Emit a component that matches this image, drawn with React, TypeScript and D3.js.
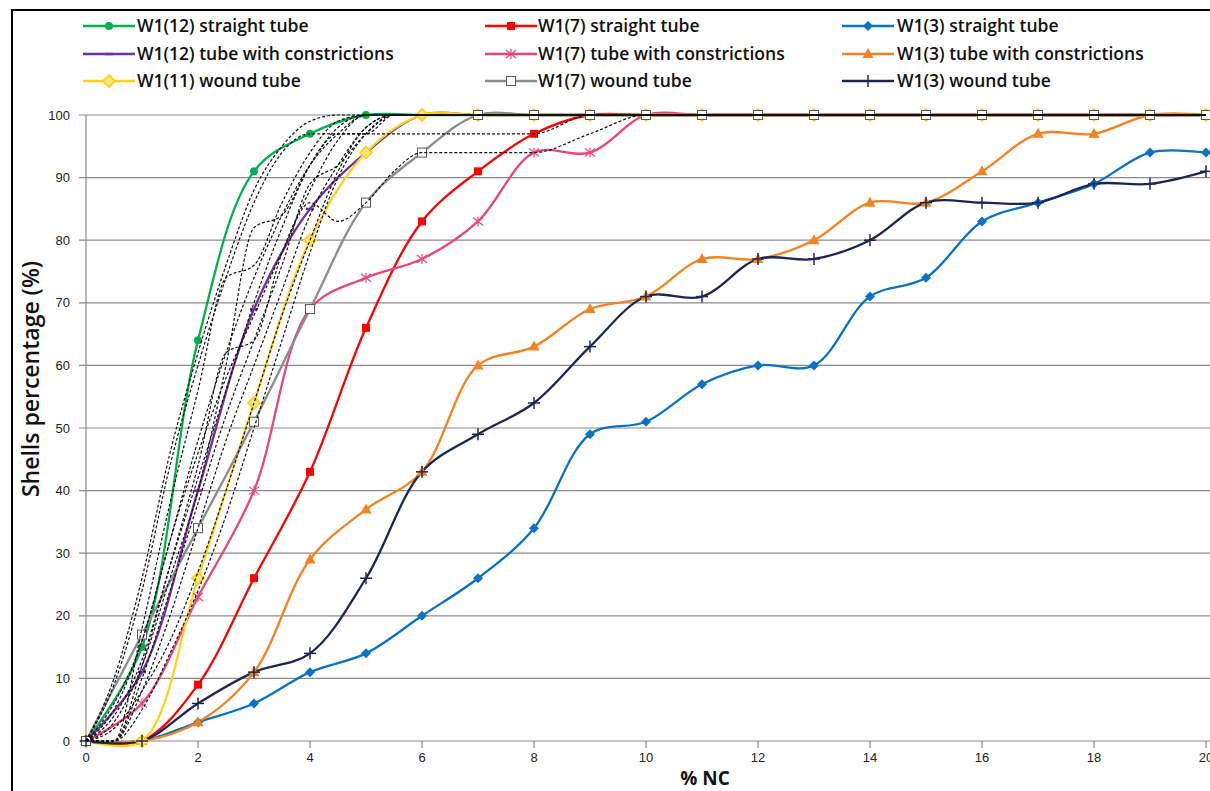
import React from "react";
import * as d3 from "d3";

const nc = [0, 1, 2, 3, 4, 5, 6, 7, 8, 9, 10, 11, 12, 13, 14, 15, 16, 17, 18, 19, 20];

const w12Straight = [0, 15, 64, 91, 97, 100, 100, 100, 100, 100, 100, 100, 100, 100, 100, 100, 100, 100, 100, 100, 100];
const w7Straight = [0, 0, 9, 26, 43, 66, 83, 91, 97, 100, 100, 100, 100, 100, 100, 100, 100, 100, 100, 100, 100];
const w3Straight = [0, 0, 3, 6, 11, 14, 20, 26, 34, 49, 51, 57, 60, 60, 71, 74, 83, 86, 89, 94, 94];
const w12Constr = [0, 11, 40, 69, 85, 94, 100, 100, 100, 100, 100, 100, 100, 100, 100, 100, 100, 100, 100, 100, 100];
const w7Constr = [0, 6, 23, 40, 69, 74, 77, 83, 94, 94, 100, 100, 100, 100, 100, 100, 100, 100, 100, 100, 100];
const w3Constr = [0, 0, 3, 11, 29, 37, 43, 60, 63, 69, 71, 77, 77, 80, 86, 86, 91, 97, 97, 100, 100];
const w11Wound = [0, 0, 26, 54, 80, 94, 100, 100, 100, 100, 100, 100, 100, 100, 100, 100, 100, 100, 100, 100, 100];
const w7Wound = [0, 17, 34, 51, 69, 86, 94, 100, 100, 100, 100, 100, 100, 100, 100, 100, 100, 100, 100, 100, 100];
const w3Wound = [0, 0, 6, 11, 14, 26, 43, 49, 54, 63, 71, 71, 77, 77, 80, 86, 86, 86, 89, 89, 91];

// unlabeled comparison curves (black dashed)
const ncFine = [0, 0.5, 1, 1.5, 2, 2.5, 3, 3.5, 4, 4.5, 5, 5.5, 6, 7, 8, 9, 10, 20];
const dash1 = [0, 9, 24, 44, 60, 74, 86, 94, 97, 97, 97, 100, 100, 100, 100, 100, 100, 100];
const dash2 = [0, 5, 16, 32, 48, 62, 74, 84, 92, 97, 97, 97, 97, 97, 97, 100, 100, 100];
const dash3 = [0, 0, 18, 38, 56, 74, 76, 86, 94, 99, 100, 100, 100, 100, 100, 100, 100, 100];
const dash4 = [0, 0, 12, 28, 44, 62, 64, 78, 88, 96, 100, 100, 100, 100, 100, 100, 100, 100];
const dash5 = [0, 6, 16, 32, 46, 58, 68, 78, 86, 83, 86, 91, 94, 94, 94, 97, 100, 100];
const dash6 = [0, 3, 12, 26, 40, 60, 82, 84, 92, 97, 100, 100, 100, 100, 100, 100, 100, 100];
const dash7 = [0, 0, 10, 24, 38, 52, 64, 76, 89, 92, 97, 100, 100, 100, 100, 100, 100, 100];
const dash8 = [0, 4, 13, 28, 42, 56, 70, 82, 92, 98, 100, 100, 100, 100, 100, 100, 100, 100];
const dash9 = [0, 0, 8, 20, 34, 48, 60, 72, 84, 92, 98, 100, 100, 100, 100, 100, 100, 100];
const dash10 = [0, 2, 8, 16, 27, 40, 54, 68, 80, 91, 98, 100, 100, 100, 100, 100, 100, 100];
const dash11 = [0, 10, 26, 46, 62, 76, 88, 95, 99, 100, 100, 100, 100, 100, 100, 100, 100, 100];
const dash12 = [0, 0, 5, 14, 24, 36, 50, 64, 78, 90, 97, 100, 100, 100, 100, 100, 100, 100];

const yTicks = [0, 10, 20, 30, 40, 50, 60, 70, 80, 90, 100];
const xTicks = [0, 2, 4, 6, 8, 10, 12, 14, 16, 18, 20];

type Shape = "circle" | "square" | "diamond" | "dash" | "star" | "triangle" | "ydiamond" | "osquare" | "plus";

const series: { name: string; values: number[]; color: string; shape: Shape }[] = [
  { name: "W1(12) straight tube", values: w12Straight, color: "#00B050", shape: "circle" },
  { name: "W1(7) straight tube", values: w7Straight, color: "#FF0000", shape: "square" },
  { name: "W1(3) straight tube", values: w3Straight, color: "#0A72C2", shape: "diamond" },
  { name: "W1(12) tube with constrictions", values: w12Constr, color: "#7030A0", shape: "dash" },
  { name: "W1(7) tube with constrictions", values: w7Constr, color: "#E8457C", shape: "star" },
  { name: "W1(3) tube with constrictions", values: w3Constr, color: "#F5821F", shape: "triangle" },
  { name: "W1(11) wound tube", values: w11Wound, color: "#FFD21A", shape: "ydiamond" },
  { name: "W1(7) wound tube", values: w7Wound, color: "#8C8C8C", shape: "osquare" },
  { name: "W1(3) wound tube", values: w3Wound, color: "#1C2654", shape: "plus" },
];

const dashed = [dash1, dash2, dash3, dash4, dash5, dash6, dash7, dash8, dash9, dash10, dash11, dash12];

function Marker({ cx, cy, shape, color }: { cx: number; cy: number; shape: Shape; color: string }) {
  switch (shape) {
    case "circle":
      return <circle cx={cx} cy={cy} r={4} fill={color} />;
    case "square":
      return <rect x={cx - 4} y={cy - 4} width={8} height={8} fill={color} />;
    case "diamond":
      return <path d={`M${cx},${cy - 5}L${cx + 5},${cy}L${cx},${cy + 5}L${cx - 5},${cy}Z`} fill={color} />;
    case "dash":
      return <rect x={cx - 4} y={cy - 1.2} width={8} height={2.4} fill={color} />;
    case "star":
      return (
        <g stroke={color} strokeWidth={1.2}>
          <line x1={cx} y1={cy - 5} x2={cx} y2={cy + 5} />
          <line x1={cx - 5} y1={cy - 4} x2={cx + 5} y2={cy + 4} />
          <line x1={cx - 5} y1={cy + 4} x2={cx + 5} y2={cy - 4} />
        </g>
      );
    case "triangle":
      return <path d={`M${cx},${cy - 6}L${cx + 5.5},${cy + 4}L${cx - 5.5},${cy + 4}Z`} fill={color} />;
    case "ydiamond":
      return (
        <path
          d={`M${cx},${cy - 6}L${cx + 6},${cy}L${cx},${cy + 6}L${cx - 6},${cy}Z`}
          fill="#FFE680"
          stroke={color}
          strokeWidth={1.8}
        />
      );
    case "osquare":
      return <rect x={cx - 4.5} y={cy - 4.5} width={9} height={9} fill="#fff" stroke="#5a5a5a" strokeWidth={1} />;
    case "plus":
      return (
        <g stroke={color} strokeWidth={1.5}>
          <line x1={cx - 6} y1={cy} x2={cx + 6} y2={cy} />
          <line x1={cx} y1={cy - 6} x2={cx} y2={cy + 6} />
        </g>
      );
  }
  return null;
}

export default function App() {
  const W = 1210;
  const H = 791;
  const x = d3.scaleLinear().domain([0, 20]).range([86, 1206]);
  const y = d3.scaleLinear().domain([0, 100]).range([741, 115]);

  const line = d3
    .line<[number, number]>()
    .x((d) => x(d[0]))
    .y((d) => y(d[1]))
    .curve(d3.curveCatmullRom.alpha(0.5));

  const dashLine = d3
    .line<[number, number]>()
    .x((d) => x(d[0]))
    .y((d) => y(d[1]))
    .curve(d3.curveMonotoneX);

  const legendCols = [
    { lx: 83, tx: 137 },
    { lx: 485, tx: 538 },
    { lx: 842, tx: 897 },
  ];
  const legendRows = [26, 54, 81];
  const font = "'Open Sans', Lato, sans-serif";
  const tickFont = "'Liberation Sans', Arial, sans-serif";

  return (
    <svg
      width={W}
      height={H}
      style={{ position: "absolute", left: 0, top: 0, background: "#fff" }}
      fontFamily={font}
    >
      <rect x={0} y={0} width={W} height={H} fill="#fff" />
      {/* frame */}
      <rect x={12} y={10} width={W + 20} height={H + 20} fill="none" stroke="#000" strokeWidth={2} />

      {/* grid */}
      {yTicks.map((t) => (
        <g key={"gy" + t}>
          <line x1={79} x2={W} y1={y(t)} y2={y(t)} stroke="#8a8a8a" strokeWidth={1.2} />
          <text x={70} y={y(t) + 4.5} textAnchor="end" fontSize={13} fontFamily={tickFont} fill="#222">
            {t}
          </text>
        </g>
      ))}
      <line x1={x(0)} x2={x(0)} y1={y(100)} y2={y(0)} stroke="#8a8a8a" strokeWidth={1.2} />
      {xTicks.map((t) => (
        <g key={"gx" + t}>
          <line x1={x(t)} x2={x(t)} y1={y(0)} y2={y(0) + 7} stroke="#8a8a8a" strokeWidth={1.2} />
          <text x={x(t)} y={762} textAnchor="middle" fontSize={13} fontFamily={tickFont} fill="#222">
            {t}
          </text>
        </g>
      ))}

      {/* colored series lines */}
      {series.map((s) => (
        <path
          key={"l" + s.name}
          d={line(nc.map((v, i) => [v, s.values[i]] as [number, number])) || ""}
          fill="none"
          stroke={s.color}
          strokeWidth={2.3}
        />
      ))}
      {/* markers */}
      {series.map((s) => (
        <g key={"m" + s.name}>
          {nc.map((v, i) => (
            <Marker key={i} cx={x(v)} cy={y(s.values[i])} shape={s.shape} color={s.color} />
          ))}
        </g>
      ))}
      {/* dashed comparison curves */}
      {dashed.map((vals, k) => (
        <path
          key={"d" + k}
          d={dashLine(ncFine.map((v, i) => [v, vals[i]] as [number, number])) || ""}
          fill="none"
          stroke="#111"
          strokeWidth={1.2}
          strokeDasharray="3,2"
        />
      ))}

      {/* axis titles */}
      <text
        transform={`translate(39,379) rotate(-90)`}
        textAnchor="middle"
        fontSize={23}
        fontWeight={600}
        fill="#111"
      >
        Shells percentage (%)
      </text>
      <text x={705} y={785} textAnchor="middle" fontSize={19} fontWeight="bold" fill="#111">
        % NC
      </text>

      {/* legend */}
      {series.map((s, i) => {
        const col = legendCols[i % 3];
        const row = legendRows[Math.floor(i / 3)];
        return (
          <g key={"lg" + s.name}>
            <line x1={col.lx} x2={col.lx + 52} y1={row} y2={row} stroke={s.color} strokeWidth={2.3} />
            <Marker cx={col.lx + 26} cy={row} shape={s.shape} color={s.color} />
            <text x={col.tx} y={row + 6} fontSize={17.5} fontWeight={600} fill="#111">
              {s.name}
            </text>
          </g>
        );
      })}
    </svg>
  );
}
